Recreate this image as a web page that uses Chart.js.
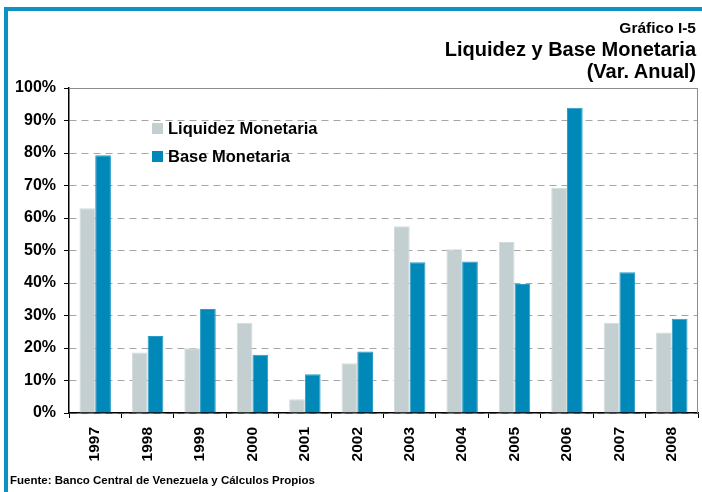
<!DOCTYPE html>
<html>
<head>
<meta charset="utf-8">
<script src="https://cdn.jsdelivr.net/npm/chart.js@4.4.1/dist/chart.umd.min.js"></script>
<style>
  html, body { margin: 0; padding: 0; background: #fff; }
  #wrap { position: relative; width: 702px; height: 492px; overflow: hidden;
          font-family: "Liberation Sans", Arial, sans-serif; font-weight: bold; color: #000; }
  #chart { position: absolute; left: 0; top: 0; }
  .frame { position: absolute; background: #0E92C3; }
  .title { position: absolute; right: 6px; white-space: nowrap; line-height: 1; }
  #note { position: absolute; left: 10px; top: 474px; font-size: 11.5px; white-space: nowrap; }
</style>
</head>
<body>
<div id="wrap">
  <canvas id="chart" width="702" height="492"></canvas>
  <div class="frame" style="left:4px;top:7px;width:698px;height:4px"></div>
  <div class="frame" style="left:4px;top:7px;width:4px;height:485px"></div>
  <div class="title" style="top:20px;font-size:15.5px">Gráfico I-5</div>
  <div class="title" style="top:39px;font-size:20px">Liquidez y Base Monetaria</div>
  <div class="title" style="top:61px;font-size:20px">(Var. Anual)</div>
  <div id="note">Fuente: Banco Central de Venezuela y Cálculos Propios</div>
</div>
<script>
// datos (variacion anual, %)
const years = ['1997', '1998', '1999', '2000', '2001', '2002', '2003', '2004', '2005', '2006', '2007', '2008'];
const liquidez = [63.0, 18.6, 19.9, 27.8, 4.2, 15.3, 57.5, 50.4, 52.6, 69.3, 27.8, 24.8];
const baseMon = [79.3, 23.7, 32.0, 17.9, 11.9, 18.9, 46.4, 46.6, 39.7, 93.9, 43.3, 29.0];
const seriesNames = ['Liquidez Monetaria', 'Base Monetaria'];
const yMax = 100;
const yStep = 10;

const FONT = '"Liberation Sans", Arial, sans-serif';
const GRAY = '#C4CFD1';
const BLUE = '#0088B9';

// marco gris superior y derecho del area de trazado
const plotFrame = {
  id: 'plotFrame',
  beforeDatasetsDraw(chart) {
    const a = chart.chartArea, ctx = chart.ctx;
    ctx.save();
    ctx.strokeStyle = '#8c8c8c';
    ctx.lineWidth = 1;
    ctx.beginPath();
    ctx.moveTo(a.left, a.top + 0.5);
    ctx.lineTo(a.right - 0.5, a.top + 0.5);
    ctx.lineTo(a.right - 0.5, a.bottom);
    ctx.stroke();
    ctx.restore();
  }
};

// leyenda dentro del grafico
const innerLegend = {
  id: 'innerLegend',
  afterDraw(chart) {
    const ctx = chart.ctx;
    ctx.save();
    ctx.font = 'bold 16.5px ' + FONT;
    ctx.textBaseline = 'middle';
    chart.data.datasets.forEach((ds, i) => {
      const y = 129 + i * 28;
      ctx.fillStyle = ds.backgroundColor;
      ctx.fillRect(152, y - 6, 11, 11);
      ctx.fillStyle = '#000';
      ctx.fillText(ds.label, 168, y);
    });
    ctx.restore();
  }
};

new Chart(document.getElementById('chart'), {
  type: 'bar',
  data: {
    labels: years,
    datasets: [
      {label: seriesNames[0], data: liquidez, backgroundColor: GRAY, borderColor: '#D3DBDC', borderWidth: 1},
      {label: seriesNames[1], data: baseMon, backgroundColor: BLUE, borderColor: '#2B9BC6', borderWidth: 1}
    ]
  },
  options: {
    responsive: false,
    animation: false,
    layout: {padding: {left: 0, top: 88, right: 4, bottom: 0}},
    datasets: {bar: {categoryPercentage: 0.6, barPercentage: 1}},
    plugins: {legend: {display: false}, tooltip: {enabled: false}},
    scales: {
      x: {
        grid: {drawOnChartArea: false, tickLength: 5, tickColor: '#000', color: '#000'},
        border: {color: '#000', width: 1.5},
        ticks: {minRotation: 90, maxRotation: 90, padding: 9, color: '#000',
                font: {family: FONT, size: 15.5, weight: 'bold'}},
        afterFit(s) { s.height = 79; }
      },
      y: {
        min: 0, max: yMax,
        grid: {color: '#a6a6a6', tickColor: '#000', tickLength: 5},
        border: {color: '#000', width: 1.5, dash: [7, 5]},
        ticks: {stepSize: yStep, padding: 8, color: '#000', callback: v => v + '%',
                font: {family: FONT, size: 16, weight: 'bold'}},
        afterFit(s) { s.width = 69; }
      }
    }
  },
  plugins: [plotFrame, innerLegend]
});
</script>
</body>
</html>
